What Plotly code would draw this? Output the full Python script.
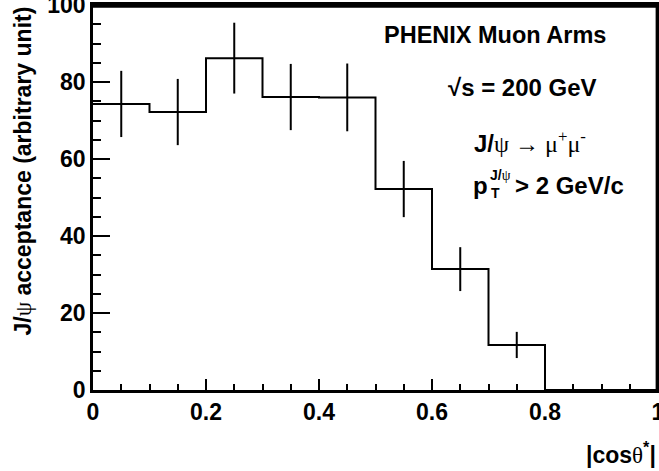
import plotly.graph_objects as go

# Bin edges of |cos theta*| and acceptance per bin
bin_edges = [0.0, 0.1, 0.2, 0.3, 0.4, 0.5, 0.6, 0.7, 0.8, 0.9, 1.0]
acceptance = [74.3, 72.2, 86.2, 76.1, 76.0, 52.2, 31.4, 11.7, 0.0, 0.0]
errors = [8.6, 8.6, 9.2, 8.6, 8.8, 7.3, 5.7, 3.4, 0.0, 0.0]
x_range = [0.0, 1.0]
y_range = [0.0, 100.0]
x_major_step, x_minor_step = 0.2, 0.05
y_major_step, y_minor_step = 20, 5

# step outline built from the bin edges
step_x = bin_edges[:-1] + [bin_edges[-1]]
step_y = acceptance + [acceptance[-1]]

# error bars at bin centres (only filled bins)
centres = [(bin_edges[i] + bin_edges[i + 1]) / 2 for i in range(len(acceptance))]
eb_x = [c for c, v in zip(centres, acceptance) if v > 0]
eb_y = [v for v in acceptance if v > 0]
eb_e = [e for e, v in zip(errors, acceptance) if v > 0]

fig = go.Figure()
fig.add_trace(go.Scatter(x=step_x, y=step_y, mode="lines", line_shape="hv",
                         line=dict(color="black", width=2), showlegend=False,
                         hoverinfo="skip"))
fig.add_trace(go.Scatter(x=eb_x, y=eb_y, mode="markers",
                         marker=dict(size=1, color="rgba(0,0,0,0)"),
                         error_y=dict(type="data", array=eb_e, visible=True,
                                      color="black", thickness=2, width=0),
                         showlegend=False, hoverinfo="skip"))

L, R, T, B = 93, 1, 5, 81
W, H = 659, 471
pw, ph = W - L - R, H - T - B

def px(xp):
    return (xp - L) / pw

def py(yp):
    return (H - B - yp) / ph

tickfont = dict(family="Liberation Sans", size=23, color="black", weight="bold")

fig.update_xaxes(range=x_range, tickmode="linear", tick0=0, dtick=x_major_step,
                 ticks="inside", ticklen=11, tickwidth=2, tickcolor="black",
                 showline=True, linewidth=2.5, linecolor="black", mirror=True,
                 showgrid=False, zeroline=False, tickfont=tickfont,
                 automargin=False, ticklabeloverflow="allow",
                 minor=dict(ticks="inside", tick0=0, dtick=x_minor_step, ticklen=6,
                            tickwidth=2, tickcolor="black", showgrid=False))
fig.update_yaxes(range=y_range, tickmode="linear", tick0=0, dtick=y_major_step,
                 ticks="inside", ticklen=17, tickwidth=2, tickcolor="black",
                 showline=True, linewidth=2.5, linecolor="black", mirror=True,
                 showgrid=False, zeroline=False, tickfont=tickfont,
                 automargin=False, ticklabeloverflow="allow",
                 minor=dict(ticks="inside", tick0=0, dtick=y_minor_step, ticklen=8,
                            tickwidth=2, tickcolor="black", showgrid=False))

# top and right sides of the frame, just inside the plotting area
fig.add_shape(type="line", xref="paper", yref="paper", x0=0, x1=1, y0=0.997, y1=0.997,
              layer="above", line=dict(color="black", width=3))
fig.add_shape(type="line", xref="paper", yref="paper", x0=0.998, x1=0.998, y0=0, y1=1,
              layer="above", line=dict(color="black", width=2.5))

base = dict(family="Liberation Sans", size=24, color="black")
serif = "font-family:Liberation Serif"
ann = []
ann.append(dict(text="<b>PHENIX Muon Arms</b>", x=px(495), y=py(35),
                xanchor="center", yanchor="middle",
                font=dict(family="Liberation Sans", size=23.5, color="black")))
ann.append(dict(text="<b>√s = 200 GeV</b>",
                x=px(446), y=py(88), xanchor="left", yanchor="middle"))
ann.append(dict(text=f"<b>J/</b><span style=\"{serif}\">ψ → μ<sup>+</sup>μ<sup>-</sup></span>",
                x=px(472), y=py(142), xanchor="left", yanchor="middle"))
ann.append(dict(text="<b>p</b>", x=px(471), y=py(185), xanchor="left", yanchor="middle"))
ann.append(dict(text=f"<b>J/</b><span style=\"{serif}\">ψ</span>", x=px(488), y=py(175),
                xanchor="left", yanchor="middle", font=dict(family="Liberation Sans", size=14, color="black")))
ann.append(dict(text="<b>T</b>", x=px(489), y=py(193), xanchor="left", yanchor="middle",
                font=dict(family="Liberation Sans", size=14, color="black")))
ann.append(dict(text="<b>> 2 GeV/c</b>", x=px(513), y=py(185), xanchor="left", yanchor="middle"))
ann.append(dict(text=f"<b>J/</b><span style=\"{serif}\">ψ</span><b> acceptance (arbitrary unit)</b>",
                x=px(22), y=1.0, xanchor="center", yanchor="top", textangle=-90,
                font=dict(family="Liberation Sans", size=23, color="black")))
ann.append(dict(text=f"<b>|cos</b><span style=\"{serif}\">θ</span><b><sup>*</sup>|</b>",
                x=1.0, y=py(453), xanchor="right", yanchor="middle",
                font=dict(family="Liberation Sans", size=23, color="black")))
for a in ann:
    a.setdefault("font", base)
    a.update(xref="paper", yref="paper", showarrow=False)

fig.update_layout(width=W, height=H, margin=dict(l=L, r=R, t=T, b=B, autoexpand=False),
                  paper_bgcolor="white", plot_bgcolor="white",
                  annotations=ann)

fig.write_html("out.html", config={"displayModeBar": False},
               post_script="document.body.style.margin='0';")
